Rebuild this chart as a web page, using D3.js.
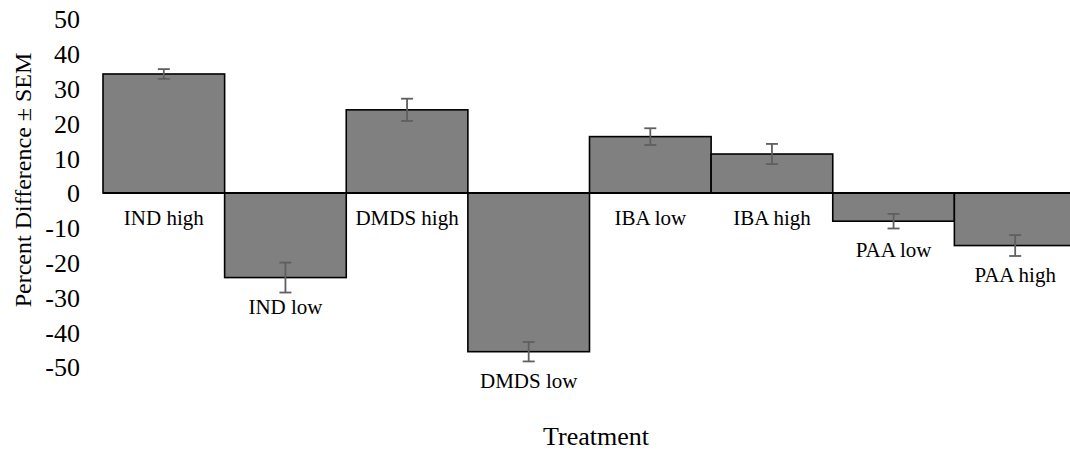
<!DOCTYPE html>
<html>
<head>
<meta charset="utf-8">
<script src="https://cdn.jsdelivr.net/npm/d3@7"></script>
<style>
  body { margin: 0; background: #fff; }
  svg { display: block; }
  svg text { font-family: "Times New Roman", "Liberation Serif", Tinos, "DejaVu Serif", serif; fill: #000; }
</style>
</head>
<body>
<div id="chart"></div>
<script>
// data
var treatments = ["IND high", "IND low", "DMDS high", "DMDS low", "IBA low", "IBA high", "PAA low", "PAA high"];
var pctDiff = [34.2, -24.3, 23.9, -45.6, 16.2, 11.2, -8.1, -15.1];
var sem = [1.4, 4.3, 3.2, 2.8, 2.4, 2.9, 2.1, 3.0];
var yTicks = [50, 40, 30, 20, 10, 0, -10, -20, -30, -40, -50];

var W = 1070, H = 451;

var svg = d3.select("#chart").append("svg")
    .attr("width", W)
    .attr("height", H);

var x = d3.scaleBand()
    .domain(treatments)
    .range([103, 1076])
    .padding(0);

var y = d3.scaleLinear()
    .domain([-50, 50])
    .range([367, 19]);

var data = treatments.map(function (t, i) {
    return { name: t, v: pctDiff[i], e: sem[i] };
});

// y tick labels (no axis line, no ticks), plain hyphen for negatives
var yAxis = d3.axisLeft(y)
    .tickValues(yTicks)
    .tickSize(0)
    .tickPadding(0)
    .tickFormat(function (d) { return String(d); });
var ya = svg.append("g")
    .attr("transform", "translate(80,0)")
    .call(yAxis);
ya.attr("font-family", null);
ya.select(".domain").remove();
ya.selectAll("text")
    .attr("font-size", 26)
    .attr("dy", "0.34em");

// bars
svg.selectAll(".bar")
    .data(data)
    .enter().append("rect")
    .attr("class", "bar")
    .attr("x", function (d) { return x(d.name); })
    .attr("y", function (d) { return y(Math.max(0, d.v)); })
    .attr("width", x.bandwidth())
    .attr("height", function (d) { return Math.abs(y(d.v) - y(0)); })
    .style("fill", "#808080")
    .style("stroke", "#000")
    .style("stroke-width", 1.6);

// zero line
svg.append("line")
    .attr("x1", x.range()[0])
    .attr("x2", x.range()[1])
    .attr("y1", y(0))
    .attr("y2", y(0))
    .style("stroke", "#000")
    .style("stroke-width", 2);

// error bars
var err = svg.selectAll(".err")
    .data(data)
    .enter().append("g")
    .attr("class", "err")
    .style("stroke", "#5f5f5f")
    .style("stroke-width", 1.8);

err.append("line")
    .attr("x1", function (d) { return x(d.name) + x.bandwidth() / 2; })
    .attr("x2", function (d) { return x(d.name) + x.bandwidth() / 2; })
    .attr("y1", function (d) { return y(d.v + d.e); })
    .attr("y2", function (d) { return y(d.v - d.e); });

err.append("line")
    .attr("x1", function (d) { return x(d.name) + x.bandwidth() / 2 - 6; })
    .attr("x2", function (d) { return x(d.name) + x.bandwidth() / 2 + 6; })
    .attr("y1", function (d) { return y(d.v + d.e); })
    .attr("y2", function (d) { return y(d.v + d.e); });

err.append("line")
    .attr("x1", function (d) { return x(d.name) + x.bandwidth() / 2 - 6; })
    .attr("x2", function (d) { return x(d.name) + x.bandwidth() / 2 + 6; })
    .attr("y1", function (d) { return y(d.v - d.e); })
    .attr("y2", function (d) { return y(d.v - d.e); });

// category labels, under the zero line or under the bar when negative
svg.selectAll(".cat")
    .data(data)
    .enter().append("text")
    .attr("class", "cat")
    .attr("x", function (d) { return x(d.name) + x.bandwidth() / 2; })
    .attr("y", function (d) { return d.v < 0 ? y(d.v) + 29 : y(0) + 25; })
    .attr("dy", "0.34em")
    .attr("text-anchor", "middle")
    .attr("font-size", 21)
    .text(function (d) { return d.name; });

// axis titles
svg.append("text")
    .attr("x", 596)
    .attr("y", 445)
    .attr("text-anchor", "middle")
    .attr("font-size", 26)
    .text("Treatment");

svg.append("text")
    .attr("transform", "translate(31,180) rotate(-90)")
    .attr("text-anchor", "middle")
    .attr("font-size", 24)
    .text("Percent Difference \u00b1 SEM");
</script>
</body>
</html>
